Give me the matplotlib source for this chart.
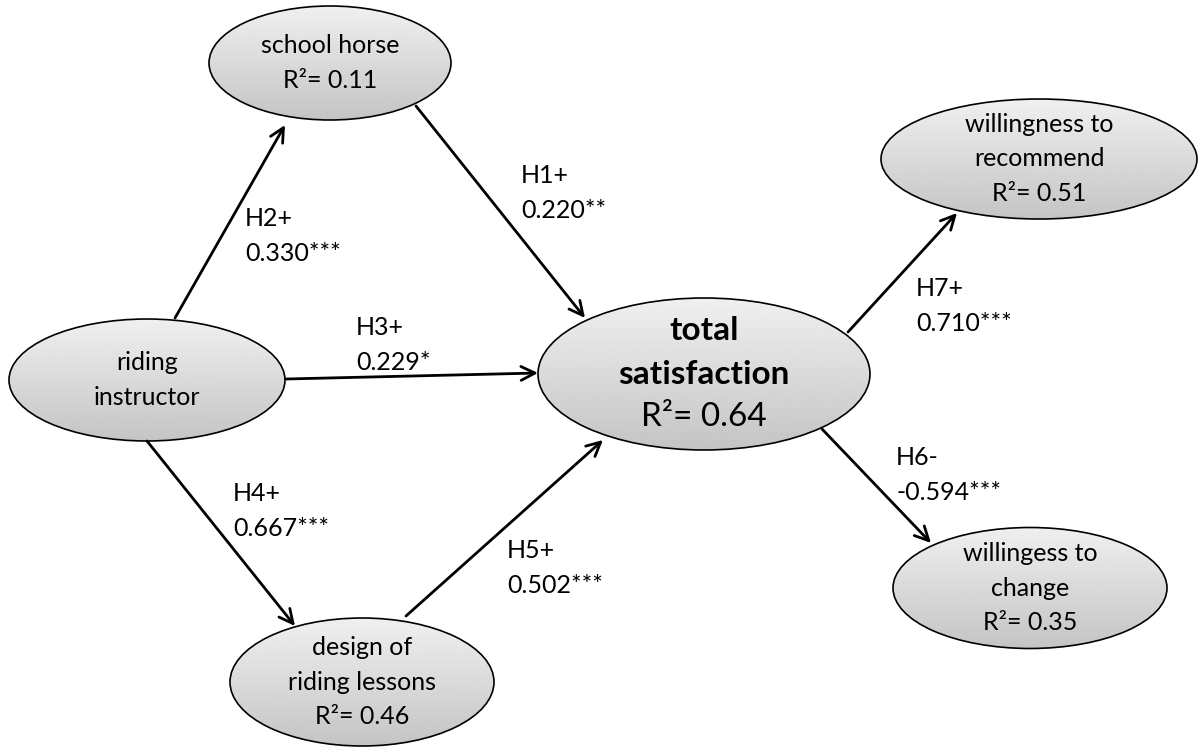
import numpy as np
import matplotlib.pyplot as plt
from matplotlib.patches import Ellipse, FancyArrowPatch

plt.rcParams['font.family'] = ['Lato', 'DejaVu Sans']

# constructs and explained variance
nodes = ['school', 'instructor', 'total', 'recommend', 'change', 'design']
node_text = ['school horse', 'riding\ninstructor', 'total\nsatisfaction',
             'willingness to\nrecommend', 'willingess to\nchange',
             'design of\nriding lessons']
r2 = [0.11, None, 0.64, 0.51, 0.35, 0.46]

# hypothesised paths
path_from = ['school', 'instructor', 'instructor', 'instructor', 'design', 'total', 'total']
path_to = ['total', 'school', 'total', 'design', 'total', 'change', 'recommend']
hyp = ['H1+', 'H2+', 'H3+', 'H4+', 'H5+', 'H6-', 'H7+']
coef = ['0.220**', '0.330***', '0.229*', '0.667***', '0.502***', '-0.594***', '0.710***']

# layout (pixels): centre x, centre y, width, height
node_box = {
    'school': (330, 63, 242, 114),
    'instructor': (147, 380, 276, 122),
    'total': (704, 374, 332, 152),
    'recommend': (1039, 159, 316, 120),
    'change': (1030, 588, 274, 121),
    'design': (362, 682, 264, 128),
}
arrow_pts = [((416, 106), (585, 318)),
             ((175, 318), (285, 125)),
             ((286, 379), (538, 373)),
             ((147, 441), (295, 626)),
             ((406, 616), (603, 440)),
             ((822, 429), (931, 543)),
             ((848, 332), (957, 213))]
label_pos = [(521, 193), (245, 236), (356, 345), (233, 511),
             (507, 568), (896, 475), (916, 306)]

fig = plt.figure(figsize=(11.98, 7.47), dpi=100)
ax = fig.add_axes([0, 0, 1, 1])
ax.set_xlim(0, 1198)
ax.set_ylim(747, 0)
ax.axis('off')

grad = np.linspace(0.94, 0.77, 256).reshape(-1, 1)

for name, txt, r in zip(nodes, node_text, r2):
    cx, cy, w, h = node_box[name]
    ell = Ellipse((cx, cy), w, h, facecolor='none', edgecolor='black', lw=1.2, zorder=3)
    ax.add_patch(ell)
    im = ax.imshow(grad, cmap='gray', vmin=0, vmax=1, aspect='auto',
                   extent=(cx - w / 2, cx + w / 2, cy + h / 2, cy - h / 2), zorder=2)
    im.set_clip_path(ell)
    label = txt if r is None else txt + '\nR²= %.2f' % r
    if name == 'total':
        parts = label.split('\n')
        ax.text(cx, cy - 43, parts[0], ha='center', va='center', fontsize=24,
                fontweight='bold', zorder=4)
        ax.text(cx, cy, parts[1], ha='center', va='center', fontsize=24,
                fontweight='bold', zorder=4)
        ax.text(cx, cy + 43, parts[2], ha='center', va='center', fontsize=24, zorder=4)
    else:
        ax.text(cx, cy, label, ha='center', va='center', fontsize=18,
                linespacing=1.6, zorder=4)

for (p0, p1), h, c, (lx, ly) in zip(arrow_pts, hyp, coef, label_pos):
    ax.add_patch(FancyArrowPatch(p0, p1, arrowstyle='->,head_length=10,head_width=5',
                                 mutation_scale=1, lw=2, color='black', zorder=5,
                                 shrinkA=0, shrinkB=0))
    ax.text(lx, ly, h + '\n' + c, ha='left', va='center', fontsize=18,
            linespacing=1.6, zorder=4)

fig.savefig('out.png', dpi=100)
